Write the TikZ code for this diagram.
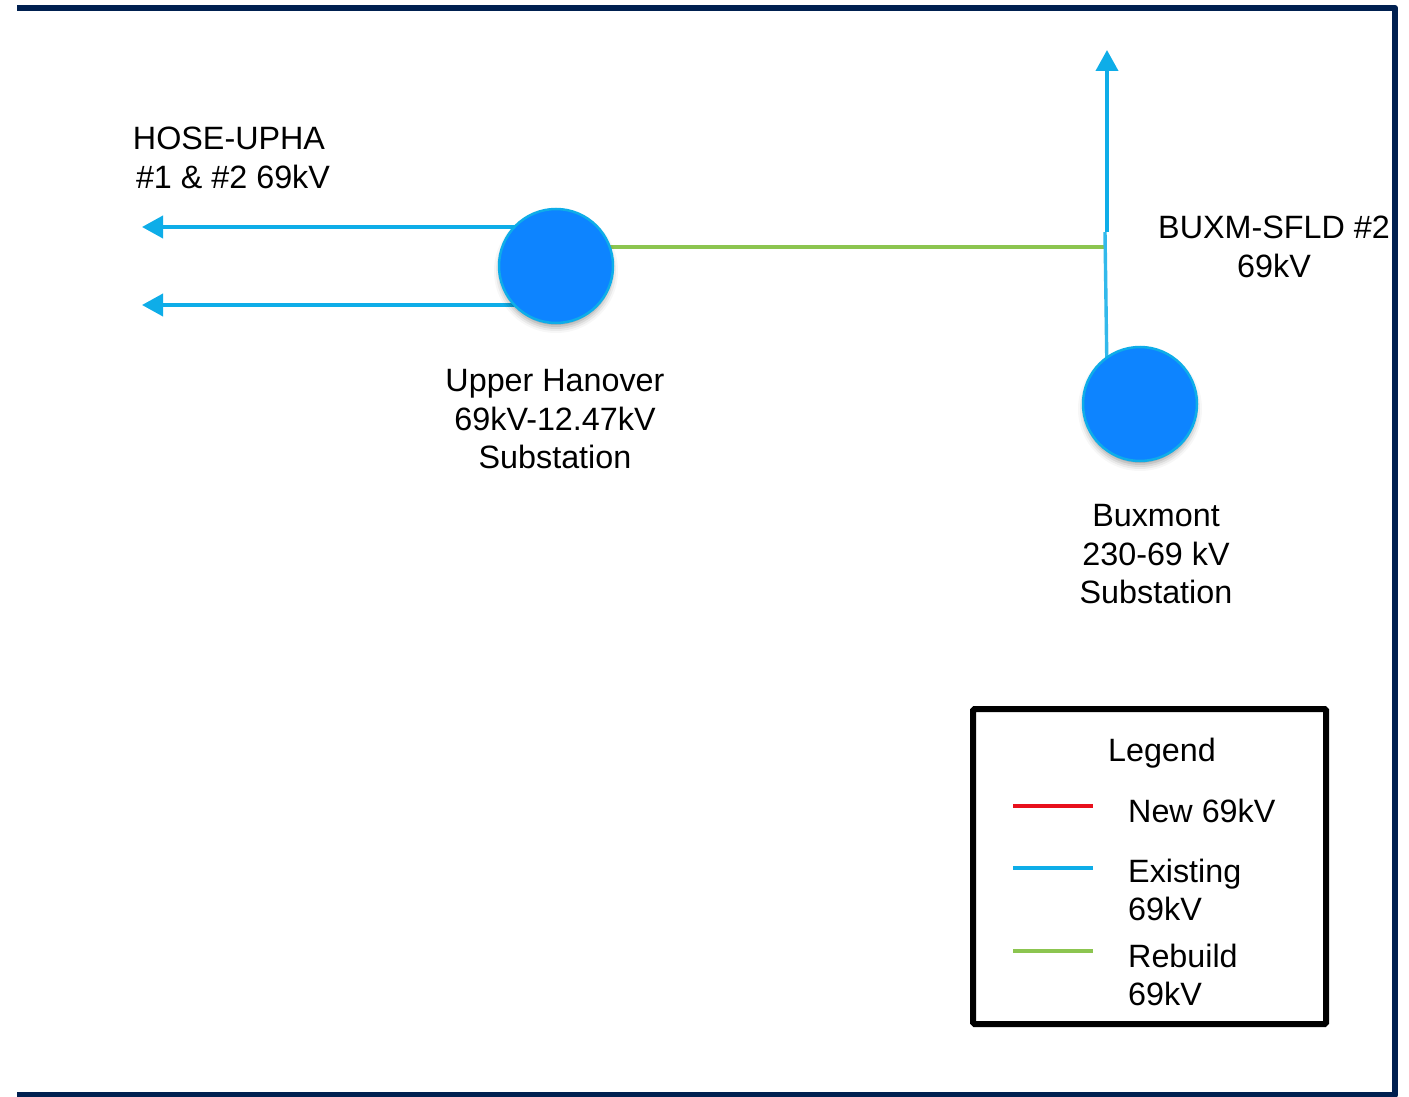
\documentclass[tikz,border=0pt]{standalone}
\usepackage{fontspec}
\setmainfont{Liberation Sans}
\usetikzlibrary{arrows.meta}
\definecolor{framec}{HTML}{002050}
\definecolor{linec}{HTML}{0EADE8}
\definecolor{subc}{HTML}{0D84FF}
\definecolor{greenc}{HTML}{8CC550}
\definecolor{redc}{HTML}{E8101C}
\tikzset{
  x=1pt,y=-1pt,
  lbl/.style={font=\fontsize{32.3}{38.5}\selectfont,align=center,inner sep=0pt,text=black},
  lbll/.style={lbl,align=left},
  feeder/.style={draw=linec,line width=3.8pt,-{Triangle[length=21pt,width=22pt]}},
  sub/.style={circle,fill=subc,draw=linec,line width=2.5pt,minimum size=114pt,inner sep=0pt},
  ln/.style={line width=4pt},
}
\newcommand{\softshadow}[2]{%
  \foreach \r/\o in {62/.03,60/.05,58/.07,56/.09,54/.11}{
    \fill[black,opacity=\o] (#1,#2+5) circle[radius=\r];}}
\begin{document}
\begin{tikzpicture}
\useasboundingbox (0,0) rectangle (1409,1097);
\fill[white] (0,0) rectangle (1409,1097);
\draw[framec,line width=6pt,line join=round] (17,8) -- (1395,8) -- (1395,1095) -- (17,1095);
% feeders
\coordinate (a1) at (142,227); \coordinate (a2) at (142,305); \coordinate (a3) at (1107,50);
\coordinate (s1) at (540,227); \coordinate (s2) at (540,305);
\coordinate (j1) at (1107,232); \coordinate (j2) at (1105,232); \coordinate (j3) at (1105,247); \coordinate (b1) at (1107,375);
\coordinate (g0) at (590,247);
\draw[feeder] (s1) -- (a1);
\draw[feeder] (s2) -- (a2);
\draw[feeder] (j1) -- (a3);
\draw[greenc,ln] (g0) -- (j3);
\draw[linec!85,line width=3.4pt] (j2) -- (b1);
\softshadow{556}{266}
\node[sub] (uh) at (556,266) {};
\softshadow{1140}{404}
\node[sub] (bx) at (1140,404) {};
% labels
\node[lbl] (t1) at (229,138) {HOSE-UPHA};
\node[lbl] (t2) at (233,177) {\#1 \& \#2 69kV};
\node[lbl] (t3) at (1274,247) {BUXM-SFLD \#2\\69kV};
\node[lbl] (t4) at (555,419.5) {Upper Hanover\\69kV-12.47kV\\Substation};
\node[lbl] (t5) at (1156,554.5) {Buxmont\\230-69 kV\\Substation};
% legend
\node[draw=black,line width=6pt,rounded corners=1.5pt,minimum width=353pt,minimum height=315pt,inner sep=0pt] (lg) at (1149.5,866.5) {};
\node[lbl] (lt) at (1162,753) {Legend};
\coordinate (l1a) at (1013,806); \coordinate (l1b) at (1093,806);
\coordinate (l2a) at (1013,868); \coordinate (l2b) at (1093,868);
\coordinate (l3a) at (1013,951); \coordinate (l3b) at (1093,951);
\draw[redc,ln] (l1a) -- (l1b);
\draw[linec,ln] (l2a) -- (l2b);
\draw[greenc,line width=4.4pt] (l3a) -- (l3b);
\node[lbll,anchor=west] (n1) at (1128,810.5) {New 69kV};
\node[lbll,anchor=west] (n2) at (1128,890) {Existing\\69kV};
\node[lbll,anchor=west] (n3) at (1128,975) {Rebuild\\69kV};
\end{tikzpicture}
\end{document}
